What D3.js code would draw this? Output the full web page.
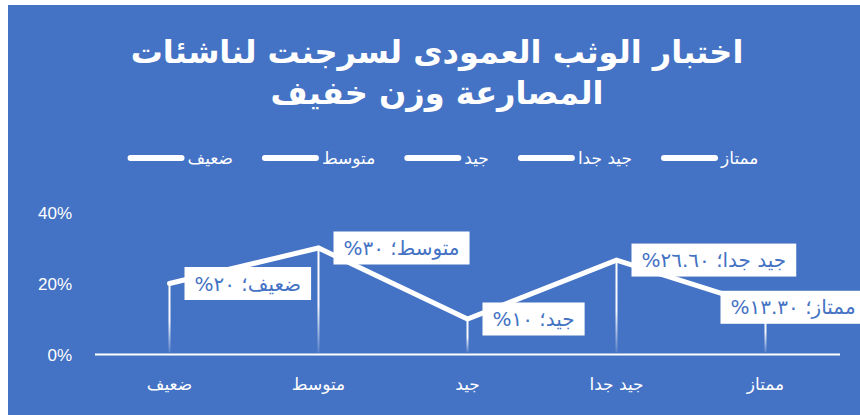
<!DOCTYPE html>
<html>
<head>
<meta charset="utf-8">
<script src="https://cdn.jsdelivr.net/npm/d3@7"></script>
<style>
  body { margin: 0; background: #fff; }
  text { font-family: "DejaVu Sans", "Liberation Sans", sans-serif; }
</style>
</head>
<body>
<div id="chart"></div>
<script>
// data
const categories = ['ضعيف', 'متوسط', 'جيد', 'جيد جدا', 'ممتاز'];
const values = [20, 30, 10, 26.6, 13.3];
const valueLabels = ['٢٠', '٣٠', '١٠', '٢٦.٦٠', '١٣.٣٠'];
const yTicks = [0, 20, 40];
const titleLines = ['اختبار  الوثب العمودى لسرجنت لناشئات', 'المصارعة وزن خفيف'];

const W = 860, H = 415;
const blue = '#4472C4';

const svg = d3.select('#chart').append('svg')
    .attr('width', W)
    .attr('height', H);

// background panel
svg.append('rect')
    .attr('x', 8).attr('y', 5)
    .attr('width', W - 8).attr('height', H - 5)
    .attr('fill', blue);

// title
svg.selectAll('.title')
    .data(titleLines)
    .enter().append('text')
    .attr('class', 'title')
    .attr('x', 437)
    .attr('y', (d, i) => 63 + i * 41)
    .attr('text-anchor', 'middle')
    .attr('direction', 'rtl')
    .attr('fill', 'white')
    .attr('font-size', '32px')
    .attr('font-weight', 'bold')
    .text(d => d);

// scales
const x = d3.scaleBand().domain(categories).range([95, 840]);
const cx = c => x(c) + x.bandwidth() / 2;
const y = d3.scaleLinear().domain([0, 40]).range([354.5, 212.5]);

// legend (centred)
const legend = svg.append('g');
const gap = 29;
let lx = 0;
categories.forEach(c => {
    const g = legend.append('g');
    g.append('line')
        .attr('x1', lx + 3).attr('x2', lx + 54)
        .attr('y1', 158).attr('y2', 158)
        .attr('stroke', 'white')
        .attr('stroke-width', 6)
        .attr('stroke-linecap', 'round');
    const t = g.append('text')
        .attr('x', lx + 60)
        .attr('y', 164)
        .attr('fill', 'white')
        .attr('font-size', '17px')
        .text(c);
    lx += 60 + t.node().getComputedTextLength() + gap;
});
const legendW = lx - gap;
legend.attr('transform', `translate(${443 - legendW / 2},0)`);

// y tick labels
svg.selectAll('.ytick')
    .data(yTicks)
    .enter().append('text')
    .attr('class', 'ytick')
    .attr('x', 72)
    .attr('y', d => y(d) + 6)
    .attr('text-anchor', 'end')
    .attr('fill', 'white')
    .attr('font-size', '17px')
    .style('font-family', '"Liberation Sans", sans-serif')
    .text(d => d + '%');

// baseline
svg.append('line')
    .attr('x1', 95).attr('x2', 840)
    .attr('y1', y(0)).attr('y2', y(0))
    .attr('stroke', 'white')
    .attr('stroke-width', 2);

// x labels
svg.selectAll('.xlab')
    .data(categories)
    .enter().append('text')
    .attr('class', 'xlab')
    .attr('x', d => cx(d))
    .attr('y', 390)
    .attr('text-anchor', 'middle')
    .attr('fill', 'white')
    .attr('font-size', '17px')
    .text(d => d);

// fading drop lines
const grad = svg.append('defs').append('linearGradient')
    .attr('id', 'fade')
    .attr('x1', 0).attr('y1', 0).attr('x2', 0).attr('y2', 1);
grad.append('stop').attr('offset', '0%').attr('stop-color', 'white').attr('stop-opacity', 1);
grad.append('stop').attr('offset', '55%').attr('stop-color', 'white').attr('stop-opacity', 0.95);
grad.append('stop').attr('offset', '100%').attr('stop-color', 'white').attr('stop-opacity', 0.1);

svg.selectAll('.drop')
    .data(categories)
    .enter().append('rect')
    .attr('class', 'drop')
    .attr('x', d => cx(d) - 1)
    .attr('y', (d, i) => y(values[i]))
    .attr('width', 2)
    .attr('height', (d, i) => y(0) - y(values[i]) - 2)
    .attr('fill', 'url(#fade)');

// main line
const line = d3.line()
    .x((d, i) => cx(categories[i]))
    .y(d => y(d));

svg.append('path')
    .datum(values)
    .attr('d', line)
    .attr('fill', 'none')
    .attr('stroke', 'white')
    .attr('stroke-width', 5)
    .attr('stroke-linejoin', 'miter')
    .attr('stroke-linecap', 'round');

// data labels
const labels = svg.selectAll('.dlabel')
    .data(categories)
    .enter().append('g')
    .attr('class', 'dlabel');

labels.each(function (d, i) {
    const g = d3.select(this);
    const rect = g.append('rect').attr('fill', 'white');
    const t = g.append('text')
        .attr('direction', 'rtl')
        .attr('fill', blue)
        .attr('font-size', '20px')
        .text(d + '؛ ' + valueLabels[i] + '%');
    const w = t.node().getComputedTextLength() + 20;
    const h = 33;
    let left = cx(d) + 15;
    if (left + w > W) left = cx(d) - 45;
    const py = y(values[i]);
    rect.attr('x', left).attr('y', py - h / 2)
        .attr('width', w).attr('height', h);
    t.attr('x', left + w - 10).attr('y', py + 7);
});
</script>
</body>
</html>
